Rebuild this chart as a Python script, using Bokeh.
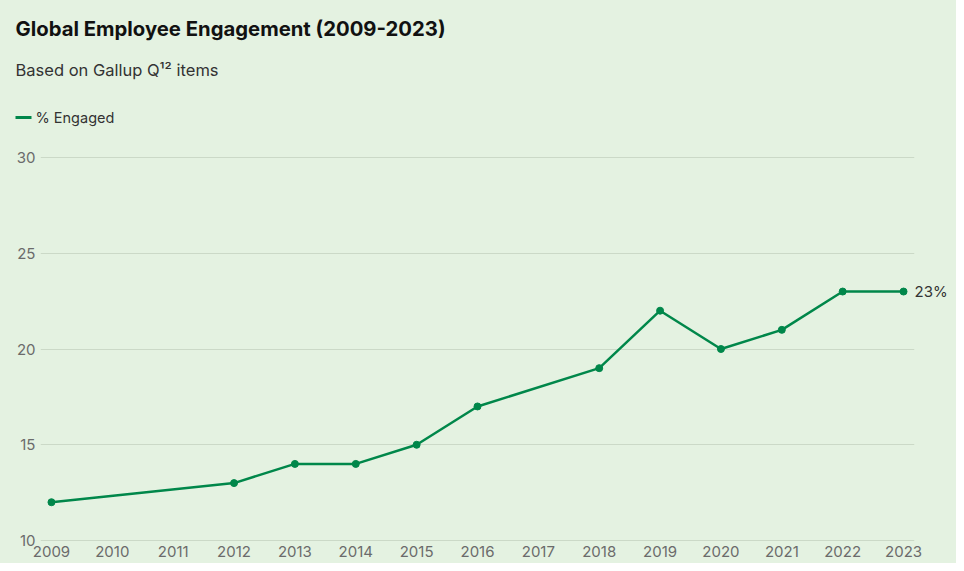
from bokeh.plotting import figure
from bokeh.layouts import column
from bokeh.models import Range1d, FixedTicker, LinearAxis, ColumnDataSource
from bokeh.core.properties import value
from bokeh.embed import file_html
from bokeh.resources import INLINE

# ---- data ----
years = [2009, 2012, 2013, 2014, 2015, 2016, 2018, 2019, 2020, 2021, 2022, 2023]
engaged = [12, 13, 14, 14, 15, 17, 19, 22, 20, 21, 23, 23]
x_ticks = list(range(2009, 2024))
y_ticks = [10, 15, 20, 25, 30]
title_text = "Global Employee Engagement (2009-2023)"
subtitle_text = "Based on Gallup Q¹² items"
series_name = "% Engaged"
end_label = "23%"

BG = "#e4f2e1"
GREEN = "#00874a"
FONT = "Inter"
W = 956
HEAD_H = 149

# ---- header (title, subtitle, legend) ----
head = figure(width=W, height=HEAD_H, output_backend="svg", toolbar_location=None,
              x_range=Range1d(0, W), y_range=Range1d(HEAD_H, 0),
              x_axis_type=None, y_axis_type=None, title_location=None,
              min_border=0, background_fill_color=None, border_fill_color=BG,
              outline_line_color=None)
head.frame_align = False
head.xgrid.visible = False
head.ygrid.visible = False
head.text(x=[15], y=[28], text=[title_text], text_font=value(FONT),
          text_font_size=value("20.3px"), text_font_style="bold",
          text_color="#111111", text_baseline="middle", text_align="left")
head.text(x=[15], y=[69], text=[subtitle_text], text_font=value(FONT),
          text_font_size=value("16.5px"), text_color="#333333",
          text_baseline="middle", text_align="left")
head.segment(x0=[15], y0=[117], x1=[31], y1=[117], line_color=GREEN, line_width=3)
head.text(x=[35], y=[117], text=[series_name], text_font=value(FONT),
          text_font_size=value("14.5px"), text_color="#333333",
          text_baseline="middle", text_align="left")

# ---- main chart ----
src = ColumnDataSource(dict(year=years, val=engaged))

p = figure(width=W, height=563 - HEAD_H, output_backend="svg", toolbar_location=None,
           x_range=Range1d(2008.82, 2023.18), y_range=Range1d(9.95, 30.05),
           title_location=None,
           min_border_left=40, min_border_right=42, min_border_bottom=22, min_border_top=7,
           background_fill_color=None, border_fill_color=BG, outline_line_color=None)
p.frame_align = False

p.line("year", "val", source=src, line_color=GREEN, line_width=2.5)
p.scatter("year", "val", source=src, size=7, fill_color=GREEN, line_color=GREEN)

# end-value label as a right axis with a single tick
right_ax = LinearAxis(ticker=FixedTicker(ticks=[engaged[-1]]),
                      major_label_overrides={engaged[-1]: end_label})
p.add_layout(right_ax, "right")

for ax in (p.xaxis[0], p.yaxis[0], right_ax):
    ax.axis_line_color = None
    ax.major_tick_line_color = None
    ax.minor_tick_line_color = None
    ax.major_tick_out = 0
    ax.major_tick_in = 0
    ax.minor_tick_out = 0
    ax.minor_tick_in = 0
    ax.major_label_text_font = FONT
    ax.major_label_text_font_size = "15px"
    ax.major_label_text_color = "#6b6b6b"
right_ax.major_label_text_color = "#333333"
right_ax.major_label_standoff = 0
p.xaxis[0].ticker = FixedTicker(ticks=x_ticks)
p.yaxis[0].ticker = FixedTicker(ticks=y_ticks)
p.xaxis[0].major_label_standoff = 4
p.yaxis[0].major_label_standoff = 5
p.xgrid.grid_line_color = None
p.ygrid.grid_line_color = "#cbd9c7"
p.ygrid.grid_line_width = 1

layout = column(head, p, spacing=0, styles={"background-color": BG})
open("out.html", "w").write(file_html(layout, INLINE))
